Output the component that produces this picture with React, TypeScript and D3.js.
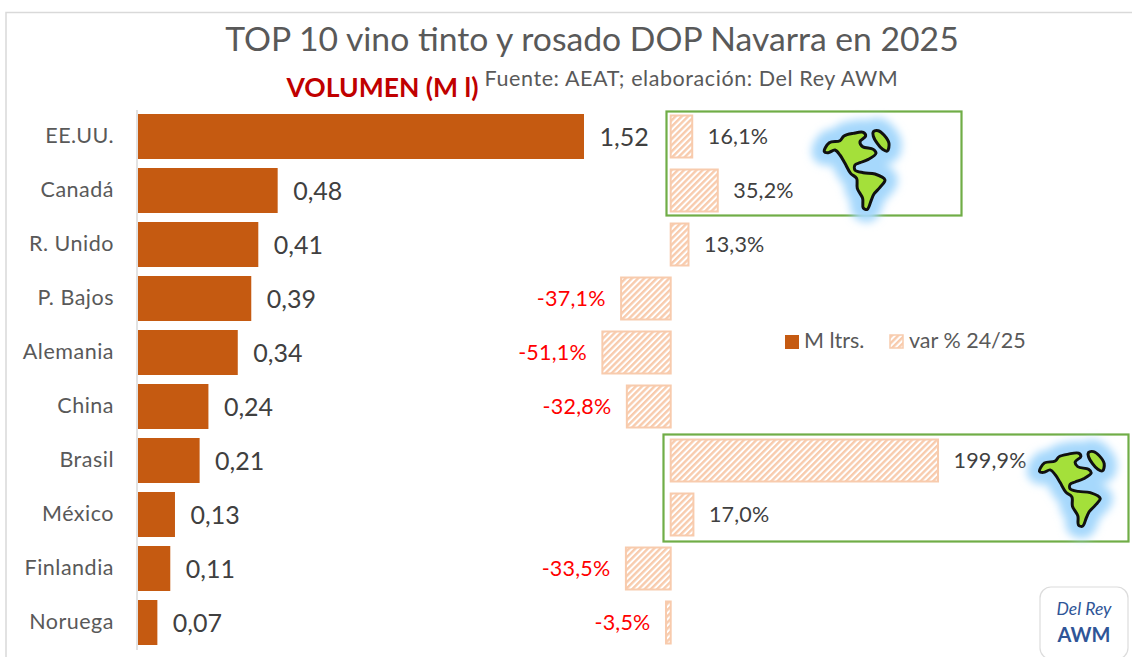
import React from "react";
import * as d3 from "d3";

const categories = ["EE.UU.", "Canadá", "R. Unido", "P. Bajos", "Alemania", "China", "Brasil", "México", "Finlandia", "Noruega"];
const volumes = [1.52, 0.476, 0.41, 0.386, 0.34, 0.24, 0.21, 0.126, 0.11, 0.066];
const changes = [16.1, 35.2, 13.3, -37.1, -51.1, -32.8, 199.9, 17.0, -33.5, -3.5];

const naOutline: [number, number][] = [[493,155],[508,128],[540,122],[552,108],[580,100],[610,97],[617,108],[600,125],[608,140],[640,148],[648,160],[625,178],[600,188],[585,195],[585,210],[610,218],[645,222],[675,240],[660,262],[642,282],[634,300],[622,328],[610,324],[608,295],[592,265],[590,235],[572,220],[555,190],[540,165],[525,150],[505,158]];
const greenland: [number, number][] = [[640,95],[655,92],[672,105],[687,130],[682,153],[668,148],[652,130],[640,108]];
const countryLine = d3.line().curve(d3.curveCatmullRomClosed.alpha(0.5));

const font = "Lato, 'Open Sans', sans-serif";
const dark = "#404040";
const grey = "#595959";
const rust = "#c55a11";
const peach = "#f8cbad";
const green = "#70ad47";

function Globe({ x, y, ky }: { x: number; y: number; ky: number }) {
  return (
    <g transform={`translate(${x},${y}) scale(${1 / 3},${ky / 3}) translate(-493,-95)`}>
      <g filter="url(#halo)">
        <path d={countryLine(naOutline) as string} fill="#a6d8fc" stroke="#a6d8fc" strokeWidth={76} strokeLinejoin="round" />
        <path d={countryLine(greenland) as string} fill="#a6d8fc" stroke="#a6d8fc" strokeWidth={76} strokeLinejoin="round" />
      </g>
      <path d={countryLine(naOutline) as string} fill="#a4e03a" stroke="#111" strokeWidth={9} strokeLinejoin="round" />
      <path d={countryLine(greenland) as string} fill="#a4e03a" stroke="#111" strokeWidth={9} strokeLinejoin="round" />
    </g>
  );
}

export default function App() {
  const y = d3.scaleBand<string>().domain(categories).range([114, 645]).paddingInner(1 / 6).paddingOuter(0);
  const xVol = d3.scaleLinear().domain([0, 1.52]).range([138, 584]);
  const xVar = d3.scaleLinear().domain([0, 199.9]).range([670.7, 938]);
  const comma = (v: number, digits: number) => v.toFixed(digits).replace(".", ",");

  return (
    <svg width={1132} height={657} style={{ position: "absolute", left: 0, top: 0, display: "block", background: "#fff" }} fontFamily={font}>
      <defs>
        <pattern id="hatch" width={4.4} height={4.4} patternUnits="userSpaceOnUse" patternTransform="rotate(-45)">
          <rect width={4.4} height={4.4} fill="#fff" />
          <rect width={4.4} height={2.4} fill={peach} />
        </pattern>
        <filter id="halo" x="-60%" y="-60%" width="220%" height="220%">
          <feGaussianBlur stdDeviation={13} />
        </filter>
      </defs>

      <path d="M6,657V12.5H1132" fill="none" stroke="#d9d9d9" strokeWidth={1.5} />
      <text x={592} y={51} textAnchor="middle" fontSize={33.7} fill={grey}>TOP 10 vino tinto y rosado DOP Navarra en 2025</text>
      <text x={382.5} y={97} textAnchor="middle" fontSize={26.5} fontWeight={700} fill="#c00000">VOLUMEN (M l)</text>
      <text x={691.5} y={86} textAnchor="middle" fontSize={21.5} letterSpacing={0.58} fill={grey}>Fuente: AEAT; elaboración: Del Rey AWM</text>

      <line x1={137} x2={137} y1={110} y2={650} stroke="#d9d9d9" strokeWidth={1.5} />

      {categories.map((c, i) => {
        const top = y(c) as number;
        const h = y.bandwidth();
        const cy = top + h / 2;
        const v = changes[i];
        const x0 = xVar(Math.min(0, v));
        const x1 = xVar(Math.max(0, v));
        return (
          <g key={c}>
            <text x={114} y={cy + 6.5} textAnchor="end" fontSize={21.5} letterSpacing={0.5} fill={grey}>{c}</text>
            <rect x={xVol(0)} y={top} width={xVol(volumes[i]) - xVol(0)} height={h} fill={rust} />
            <text x={xVol(volumes[i]) + 15.5} y={cy + 9.5} fontSize={25} fill={dark}>{comma(volumes[i], 2)}</text>
            <rect x={x0} y={top + 1.5} width={x1 - x0} height={h - 3} fill="url(#hatch)" stroke={peach} strokeWidth={2} />
            {v >= 0 ? (
              <text x={x1 + 15.5} y={cy + 7.5} fontSize={21.5} letterSpacing={0.2} fill={dark}>{comma(v, 1)}%</text>
            ) : (
              <text x={x0 - 15.5} y={cy + 7.5} textAnchor="end" fontSize={21.5} letterSpacing={0.2} fill="#ff0000">{comma(v, 1)}%</text>
            )}
          </g>
        );
      })}

      <rect x={785} y={335} width={14} height={14} fill={rust} />
      <text x={804} y={348} fontSize={21.5} fill={grey}>M ltrs.</text>
      <rect x={890} y={335} width={13} height={13} fill="url(#hatch)" stroke={peach} strokeWidth={1.5} />
      <text x={909} y={348} fontSize={21.5} fill={grey}>var % 24/25</text>

      <rect x={666.5} y={111.5} width={295} height={104} fill="none" stroke={green} strokeWidth={2.2} />
      <rect x={663.5} y={434.5} width={465} height={107} fill="none" stroke={green} strokeWidth={2.2} />
      <Globe x={824.3} y={131.7} ky={1} />
      <Globe x={1039.5} y={452.5} ky={0.95} />

      <rect x={1040} y={587} width={88} height={72} rx={11} fill="#fff" stroke="#dcdcdc" strokeWidth={1.2} />
      <text x={1084} y={615} textAnchor="middle" fontSize={17.5} fontStyle="italic" fill="#2f5597">Del Rey</text>
      <text x={1084} y={642} textAnchor="middle" fontSize={20} fontWeight={700} fill="#2f5597">AWM</text>
    </svg>
  );
}
